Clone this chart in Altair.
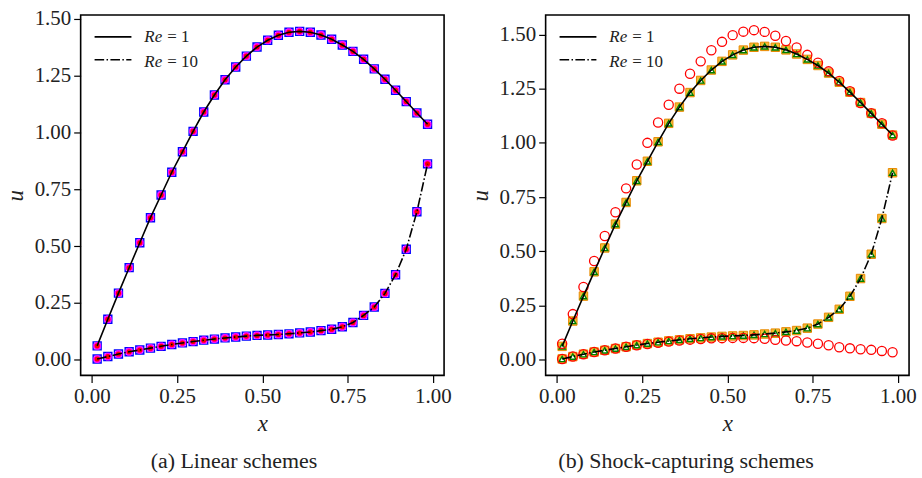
import altair as alt
import pandas as pd

# Cell-centre positions (32 cells on [0, 1])
x_vals = [0.0156, 0.0469, 0.0781, 0.1094, 0.1406, 0.1719, 0.2031, 0.2344,
          0.2656, 0.2969, 0.3281, 0.3594, 0.3906, 0.4219, 0.4531, 0.4844,
          0.5156, 0.5469, 0.5781, 0.6094, 0.6406, 0.6719, 0.7031, 0.7344,
          0.7656, 0.7969, 0.8281, 0.8594, 0.8906, 0.9219, 0.9531, 0.9844]

# Reference solutions
u_re1 = [0.061, 0.178, 0.293, 0.405, 0.515, 0.625, 0.725, 0.825,
         0.915, 1.005, 1.090, 1.165, 1.232, 1.288, 1.336, 1.376,
         1.406, 1.428, 1.441, 1.445, 1.441, 1.429, 1.410, 1.385,
         1.357, 1.322, 1.280, 1.234, 1.186, 1.136, 1.086, 1.036]
u_re10 = [0.003, 0.014, 0.025, 0.035, 0.043, 0.051, 0.059, 0.067,
          0.074, 0.080, 0.086, 0.091, 0.096, 0.100, 0.104, 0.107,
          0.109, 0.111, 0.114, 0.118, 0.122, 0.128, 0.134, 0.145,
          0.164, 0.195, 0.232, 0.292, 0.374, 0.486, 0.651, 0.862]

# Deviating shock-capturing scheme (open red circles)
dev_re1 = [0.073, 0.210, 0.335, 0.455, 0.570, 0.680, 0.790, 0.900,
           1.000, 1.094, 1.176, 1.250, 1.319, 1.376, 1.427, 1.466,
           1.497, 1.513, 1.520, 1.512, 1.494, 1.470, 1.440, 1.406,
           1.370, 1.330, 1.286, 1.238, 1.184, 1.137, 1.091, 1.034]
dev_re10 = [0.003, 0.014, 0.025, 0.035, 0.043, 0.051, 0.059, 0.066,
            0.072, 0.078, 0.083, 0.088, 0.092, 0.095, 0.098, 0.099,
            0.100, 0.100, 0.099, 0.096, 0.091, 0.088, 0.085, 0.079,
            0.073, 0.066, 0.057, 0.052, 0.048, 0.045, 0.040, 0.034]

x_ticks = [0.0, 0.25, 0.5, 0.75, 1.0]
y_ticks = [0.0, 0.25, 0.5, 0.75, 1.0, 1.25, 1.5]

FONT = "Liberation Serif"
W, H = 365, 362
GAP = 102

df_re1 = pd.DataFrame({"x": x_vals, "u": u_re1})
df_re10 = pd.DataFrame({"x": x_vals, "u": u_re10})
df_both = pd.concat([df_re1, df_re10], ignore_index=True)
df_dev = pd.DataFrame({"x": x_vals * 2, "u": dev_re1 + dev_re10})
one = pd.DataFrame({"k": [0]})


def encodings(ydom):
    xs = alt.X("x:Q", scale=alt.Scale(domain=[-0.0328, 1.0328], nice=False, zero=False),
               axis=alt.Axis(values=x_ticks, format=".2f", title="x",
                             titleX=W / 2, titleY=48, titleBaseline="middle"))
    ys = alt.Y("u:Q", scale=alt.Scale(domain=ydom, nice=False, zero=False),
               axis=alt.Axis(values=y_ticks, format=".2f", title="u",
                             titleX=-65, titleY=H / 2, titleAngle=270,
                             titleAlign="center", titleBaseline="middle"))
    return dict(x=xs, y=ys)


def curves(ydom):
    enc = encodings(ydom)
    solid = alt.Chart(df_re1).mark_line(color="black", strokeWidth=1.6).encode(**enc)
    dashdot = alt.Chart(df_re10).mark_line(
        color="black", strokeWidth=1.6, strokeDash=[9.6, 2.4, 1.5, 2.4]).encode(**enc)
    return solid, dashdot


def legend():
    layers = []
    for ly, ty, num, dash in [(22, 27, "1", [1, 0]), (45, 52, "10", [9.6, 2.4, 1.5, 2.4])]:
        layers.append(alt.Chart(one).mark_rule(color="black", strokeWidth=1.6, strokeDash=dash)
                      .encode(x=alt.value(14), x2=alt.value(51), y=alt.value(ly)))
        layers.append(alt.Chart(one).mark_text(text="Re", font=FONT, fontStyle="italic",
                                               fontSize=17, align="left", baseline="alphabetic",
                                               color="#222")
                      .encode(x=alt.value(64), y=alt.value(ty)))
        layers.append(alt.Chart(one).mark_text(text="= " + num, font=FONT, fontSize=17,
                                               align="left", baseline="alphabetic", color="#222")
                      .encode(x=alt.value(87), y=alt.value(ty)))
    return layers


def caption(text, cx):
    return alt.Chart(one).mark_text(text=text, font=FONT, fontSize=22, align="center",
                                    baseline="middle", color="#222").encode(
        x=alt.value(cx), y=alt.value(448))


def corner(x, y):
    # white 1px rule that fixes the outer extent of the figure
    return alt.Chart(one).mark_rule(color="white", strokeWidth=1).encode(
        x=alt.value(x), x2=alt.value(x + 1), y=alt.value(y), y2=alt.value(y + 1))


# (a) Linear schemes
ydom_a = [-0.069, 1.517]
enc_a = encodings(ydom_a)
sq_a = alt.Chart(df_both).mark_point(shape="square", filled=False, color="blue",
                                     size=64, strokeWidth=1.4, opacity=1).encode(**enc_a)
star1_a = alt.Chart(df_both).mark_point(shape="cross", filled=True, color="magenta",
                                        size=62, opacity=1).encode(**enc_a)
star2_a = alt.Chart(df_both).mark_point(shape="cross", filled=True, color="magenta",
                                        size=62, angle=45, opacity=1).encode(**enc_a)
dot_a = alt.Chart(df_both).mark_circle(color="red", size=26, opacity=1).encode(**enc_a)
solid_a, dash_a = curves(ydom_a)
left = alt.layer(corner(-79, -12), sq_a, star1_a, star2_a, dot_a, solid_a, dash_a, *legend(),
                 caption("(a) Linear schemes", 154)).properties(width=W, height=H)

# (b) Shock-capturing schemes
ydom_b = [-0.073, 1.590]
enc_b = encodings(ydom_b)
sq_b = alt.Chart(df_both).mark_point(shape="square", filled=True, fill="#f7b938",
                                     stroke="#e88a00", strokeWidth=1, size=72,
                                     opacity=1).encode(**enc_b)
tri_b = alt.Chart(df_both).mark_point(shape="triangle-up", filled=True, fill="white",
                                      stroke="green", strokeWidth=1.4, size=38,
                                      opacity=1).encode(**enc_b)
circ_b = alt.Chart(df_dev).mark_point(shape="circle", filled=False, color="red",
                                      size=85, strokeWidth=1.3, opacity=1).encode(**enc_b)
solid_b, dash_b = curves(ydom_b)
right = alt.layer(corner(W + 10, H + 103), sq_b, tri_b, circ_b, solid_b, dash_b, *legend(),
                  caption("(b) Shock-capturing schemes", 141)).properties(width=W, height=H)

chart = alt.hconcat(left, right, spacing=GAP, bounds="flush").properties(
    padding=0,
    background="white",
).configure_view(
    stroke="black", strokeWidth=1.6
).configure_axis(
    domain=False, grid=False, ticks=True, tickSize=7, tickWidth=1.2, tickColor="black",
    labelFont=FONT, labelFontSize=21, labelColor="#222", labelPadding=3,
    titleFont=FONT, titleFontSize=23, titleFontStyle="italic", titleFontWeight="normal",
    titleColor="#222",
)

chart.save("out.html", embed_options={"renderer": "svg", "actions": False})
